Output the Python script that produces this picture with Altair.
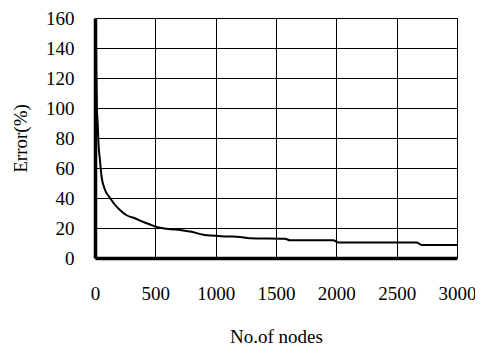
import altair as alt
import pandas as pd

nodes = [8, 12, 16, 22, 30, 40, 55, 80, 125, 160, 200, 262, 330, 400, 450, 497, 594, 732, 800, 897, 1091, 1200, 1284, 1574, 1616, 1975, 2016, 2665, 2707, 3000]
error = [145, 120, 100, 90, 75, 66, 54, 46, 40, 36, 32.5, 28.5, 26.5, 24, 22.5, 21, 19.5, 18.4, 17.5, 15.5, 14.4, 14, 13.2, 12.9, 11.8, 11.8, 10.3, 10.3, 8.7, 8.7]

df = pd.DataFrame({"nodes": nodes, "error": error})

FONT = "Liberation Serif"
common = dict(ticks=False, format="d", domainWidth=3.5, domainColor="black",
              gridColor="black", gridWidth=1, gridOpacity=1, labelFlush=False,
              labelFont=FONT, titleFont=FONT, labelFontSize=19, titleFontSize=19,
              labelColor="#000000", titleColor="#000000", titleFontWeight="normal")

chart = alt.Chart(df).mark_line(color="black", strokeWidth=2, interpolate="monotone").encode(
    x=alt.X("nodes:Q", title="No.of nodes",
            scale=alt.Scale(domain=[0, 3000], nice=False, zero=True),
            axis=alt.Axis(values=[0, 500, 1000, 1500, 2000, 2500, 3000],
                          labelPadding=26, titlePadding=24, **common)),
    y=alt.Y("error:Q", title="Error(%)",
            scale=alt.Scale(domain=[0, 160], nice=False),
            axis=alt.Axis(values=[0, 20, 40, 60, 80, 100, 120, 140, 160],
                          labelPadding=21, titlePadding=15, **common)),
).properties(
    width=362, height=240,
    autosize=alt.AutoSizeParams(type="none"),
    padding={"left": 87, "top": 10, "right": 18, "bottom": 94},
).configure_view(stroke=None)

chart.save("out.html", embed_options={"renderer": "svg", "actions": False})
